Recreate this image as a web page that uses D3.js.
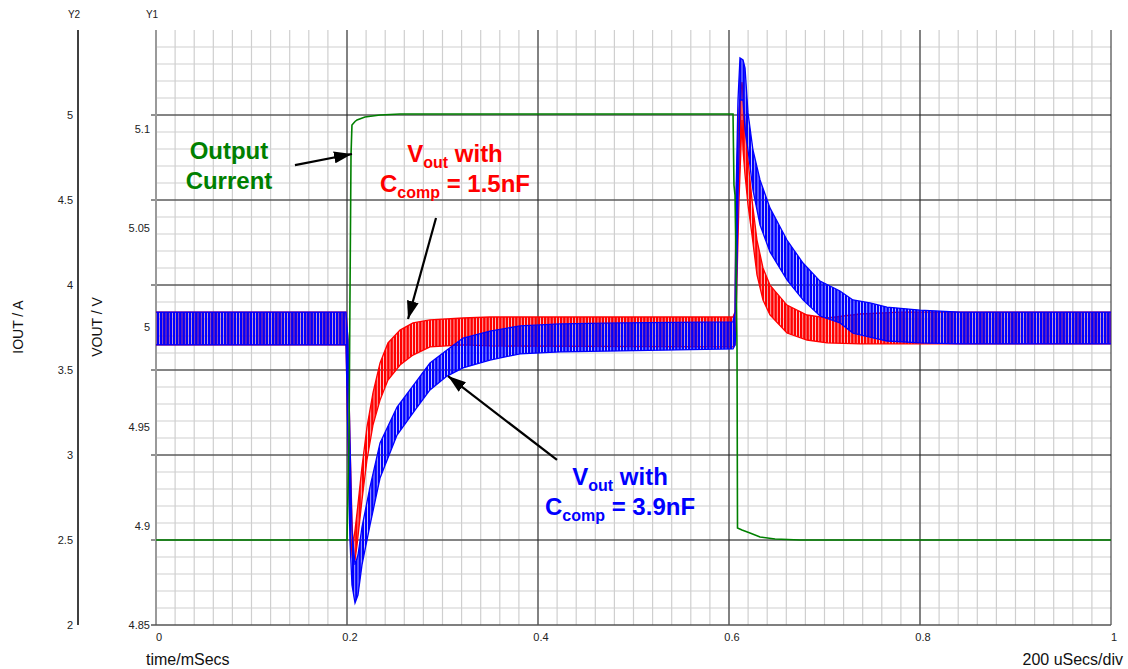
<!DOCTYPE html>
<html>
<head>
<meta charset="utf-8">
<script src="https://cdn.jsdelivr.net/npm/d3@7"></script>
<style>
  body { margin: 0; background: #fff; }
  svg { display: block; font-family: "Liberation Sans", Arial, sans-serif; }
</style>
</head>
<body>
<svg id="chart" width="1128" height="669"></svg>
<script>
// time axis in mSecs
const xTicks = [0, 0.2, 0.4, 0.6, 0.8, 1];
const y1Ticks = [4.85, 4.9, 4.95, 5, 5.05, 5.1];
const y2Ticks = [2, 2.5, 3, 3.5, 4, 4.5, 5];

// output current (A, on Y2)
const iT = [0, 0.2, 0.2021, 0.2031, 0.2042, 0.2052, 0.2084, 0.2105, 0.2188, 0.2346, 0.2555, 0.6042, 0.6052, 0.6063, 0.6073, 0.6084, 0.6089, 0.6136, 0.6220, 0.6325, 0.6482, 0.6743, 1];
const iOut = [2.5, 2.5, 3.088, 3.912, 4.765, 4.941, 4.962, 4.971, 4.988, 5.0, 5.006, 5.006, 4.588, 4.529, 4.147, 3.618, 2.571, 2.559, 2.541, 2.518, 2.506, 2.5, 2.5];

// Vout with Ccomp = 1.5nF : ripple envelope (V, on Y1)
const redT = [0, 0.199, 0.201, 0.2031, 0.2052, 0.2063, 0.2084, 0.2105, 0.2157, 0.2209, 0.2272, 0.2346, 0.2429, 0.2555, 0.2691, 0.2869, 0.3215, 0.3497, 0.6042, 0.6063, 0.6073, 0.6105, 0.6136, 0.6147, 0.6168, 0.6199, 0.6241, 0.6293, 0.6356, 0.6429, 0.6607, 0.6817, 0.7026, 0.7372, 0.7791, 1];
const redHi = [5.0078, 5.0078, 4.9937, 4.9433, 4.9029, 4.8903, 4.8979, 4.9065, 4.9297, 4.9498, 4.9670, 4.9821, 4.9922, 4.9987, 5.0023, 5.0038, 5.0048, 5.0053, 5.0053, 5.0078, 5.0643, 5.1097, 5.1238, 5.1182, 5.1021, 5.0845, 5.0643, 5.0441, 5.0300, 5.0214, 5.0113, 5.0063, 5.0048, 5.0068, 5.0078, 5.0078];
const redLo = [4.9912, 4.9912, 4.9433, 4.9029, 4.8853, 4.8818, 4.8828, 4.8903, 4.9130, 4.9332, 4.9508, 4.9634, 4.9735, 4.9811, 4.9861, 4.9902, 4.9912, 4.9907, 4.9902, 4.9912, 5.0038, 5.0643, 5.1046, 5.0895, 5.0769, 5.0618, 5.0466, 5.0265, 5.0139, 5.0063, 4.9972, 4.9937, 4.9922, 4.9917, 4.9917, 4.9917];

// Vout with Ccomp = 3.9nF : ripple envelope (V, on Y1)
const blueT = [0, 0.199, 0.201, 0.2031, 0.2052, 0.2084, 0.2115, 0.2157, 0.2241, 0.2346, 0.2524, 0.2712, 0.2869, 0.3047, 0.3215, 0.3497, 0.3812, 0.4230, 0.4859, 0.6042, 0.6063, 0.6073, 0.6094, 0.6115, 0.6147, 0.6168, 0.6199, 0.6251, 0.6325, 0.6429, 0.6607, 0.6775, 0.6953, 0.7162, 0.7298, 0.7476, 0.7654, 0.8, 0.8419, 1];
const blueHi = [5.0078, 5.0078, 4.9937, 4.9433, 4.8979, 4.8803, 4.8853, 4.8994, 4.9196, 4.9418, 4.9599, 4.9720, 4.9821, 4.9887, 4.9947, 4.9982, 5.0008, 5.0018, 5.0023, 5.0028, 5.0078, 5.0643, 5.1147, 5.1359, 5.1349, 5.1308, 5.1082, 5.0895, 5.0744, 5.0603, 5.0441, 5.0325, 5.0234, 5.0184, 5.0139, 5.0124, 5.0103, 5.0088, 5.0078, 5.0078];
const blueLo = [4.9912, 4.9912, 4.9433, 4.8929, 4.8702, 4.8611, 4.8651, 4.8803, 4.9004, 4.9241, 4.9458, 4.9584, 4.9685, 4.9755, 4.9796, 4.9836, 4.9867, 4.9877, 4.9882, 4.9892, 4.9912, 4.9987, 5.0643, 5.1147, 5.1147, 5.0996, 5.0895, 5.0693, 5.0517, 5.0381, 5.0240, 5.0139, 5.0058, 5.0023, 4.9972, 4.9952, 4.9932, 4.9922, 4.9917, 4.9917];

const svg = d3.select("#chart");

let x = d3.scaleLinear().domain([0, 1]).range([156, 1111]);
let y1 = d3.scaleLinear().domain([4.85, 5.15]).range([625, 30]);
let y2 = d3.scaleLinear().domain([2, 5.5]).range([625, 30]);

// ripple fill patterns
let defs = svg.append("defs");
[["ripple-red", "#ff0000"], ["ripple-blue", "#0000ff"]].forEach(function(p){
    defs.append("pattern")
        .attr("id", p[0])
        .attr("patternUnits", "userSpaceOnUse")
        .attr("width", 3.2)
        .attr("height", 20)
      .append("rect")
        .attr("width", 2.5)
        .attr("height", 20)
        .attr("fill", p[1]);
});
defs.append("marker")
    .attr("id", "head")
    .attr("markerUnits", "userSpaceOnUse")
    .attr("viewBox", "0 0 18 12")
    .attr("refX", 18).attr("refY", 6)
    .attr("markerWidth", 18).attr("markerHeight", 12)
    .attr("orient", "auto")
  .append("path")
    .attr("d", "M0,0 L18,6 L0,12 Z")
    .attr("fill", "#000");

// grid
let grid = svg.append("g");
grid.selectAll(".vminor")
    .data(d3.range(1, 50).map(function(i){ return i * 0.02; }))
    .enter().append("line")
    .attr("x1", function(d){ return x(d); }).attr("x2", function(d){ return x(d); })
    .attr("y1", y2(5.5)).attr("y2", y2(2))
    .style("stroke", "#cfcfcf").style("stroke-width", 1.2);
grid.selectAll(".hminor")
    .data(d3.range(1, 35).map(function(i){ return 2 + i * 0.1; }))
    .enter().append("line")
    .attr("x1", x(0)).attr("x2", x(1))
    .attr("y1", function(d){ return y2(d); }).attr("y2", function(d){ return y2(d); })
    .style("stroke", "#cfcfcf").style("stroke-width", 1.2);
grid.selectAll(".hmajor")
    .data(y2Ticks.slice(1))
    .enter().append("line")
    .attr("x1", x(0) - 5).attr("x2", x(1))
    .attr("y1", function(d){ return y2(d); }).attr("y2", function(d){ return y2(d); })
    .style("stroke", "#222").style("stroke-width", 1);
grid.selectAll(".vmajor")
    .data(xTicks.slice(1))
    .enter().append("line")
    .attr("x1", function(d){ return x(d); }).attr("x2", function(d){ return x(d); })
    .attr("y1", y2(5.5)).attr("y2", y2(2))
    .style("stroke", "#222").style("stroke-width", 1);
// Y1 axis and bottom
grid.append("line")
    .attr("x1", x(0)).attr("x2", x(0)).attr("y1", y2(5.5)).attr("y2", y2(2))
    .style("stroke", "#9a9a9a").style("stroke-width", 2);
grid.append("line")
    .attr("x1", x(0) - 5).attr("x2", x(1)).attr("y1", y2(2)).attr("y2", y2(2))
    .style("stroke", "#555").style("stroke-width", 1.5);
// Y2 axis line
svg.append("line")
    .attr("x1", 78).attr("x2", 78).attr("y1", y2(5.5)).attr("y2", y2(2))
    .style("stroke", "#000").style("stroke-width", 1.5);

// tick labels
let lab = svg.append("g").style("font-size", "11px").style("fill", "#222");
lab.selectAll(".xl").data(xTicks).enter().append("text")
    .attr("x", function(d){ return x(d) + 3; })
    .attr("y", 641)
    .attr("text-anchor", "middle")
    .text(function(d){ return d; });
lab.selectAll(".y1l").data(y1Ticks).enter().append("text")
    .attr("x", 150)
    .attr("y", function(d){ return y1(d); })
    .attr("dy", "0.35em")
    .attr("text-anchor", "end")
    .text(function(d){ return d; });
lab.selectAll(".y2l").data(y2Ticks).enter().append("text")
    .attr("x", 73)
    .attr("y", function(d){ return y2(d); })
    .attr("dy", "0.35em")
    .attr("text-anchor", "end")
    .text(function(d){ return d; });
lab.append("text").attr("x", 74).attr("y", 18).attr("text-anchor", "middle").style("font-size", "10px").text("Y2");
lab.append("text").attr("x", 152).attr("y", 18).attr("text-anchor", "middle").style("font-size", "10px").text("Y1");

// axis titles
svg.append("text")
    .attr("transform", "translate(23,327) rotate(-90)")
    .attr("text-anchor", "middle")
    .style("font-size", "14px").style("fill", "#111")
    .text("IOUT / A");
svg.append("text")
    .attr("transform", "translate(102,327) rotate(-90)")
    .attr("text-anchor", "middle")
    .style("font-size", "14px").style("fill", "#111")
    .text("VOUT / V");
svg.append("text")
    .attr("x", 146).attr("y", 665)
    .style("font-size", "16px").style("fill", "#111")
    .text("time/mSecs");
svg.append("text")
    .attr("x", 1123).attr("y", 665)
    .attr("text-anchor", "end")
    .style("font-size", "16px").style("fill", "#111")
    .text("200 uSecs/div");

// traces
let plot = svg.append("g");
function drawRipple(tt, hi, lo, color, pat){
    let rows = tt.map(function(t, i){ return {t: t, hi: hi[i], lo: lo[i]}; });
    let area = d3.area()
        .x(function(d){ return x(d.t); })
        .y0(function(d){ return y1(d.lo); })
        .y1(function(d){ return y1(d.hi); });
    plot.append("path")
        .datum(rows)
        .attr("d", area)
        .style("fill", "url(#" + pat + ")");
    ["hi", "lo"].forEach(function(k){
        plot.append("path")
            .datum(rows)
            .attr("d", d3.line()
                .x(function(d){ return x(d.t); })
                .y(function(d){ return y1(d[k]); }))
            .style("fill", "none")
            .style("stroke", color)
            .style("stroke-width", 1.3);
    });
}
drawRipple(redT, redHi, redLo, "#ff0000", "ripple-red");
drawRipple(blueT, blueHi, blueLo, "#0000ff", "ripple-blue");

plot.append("path")
    .datum(iT.map(function(t, i){ return {t: t, a: iOut[i]}; }))
    .attr("d", d3.line()
        .x(function(d){ return x(d.t); })
        .y(function(d){ return y2(d.a); }))
    .style("fill", "none")
    .style("stroke", "#008000")
    .style("stroke-width", 1.6);

// annotations (positions in time / VOUT units)
const arrows = [
    {t0: 0.1455, v0: 5.0819, t1: 0.2052, v1: 5.0875},
    {t0: 0.2932, v0: 5.0552, t1: 0.2639, v1: 5.0043},
    {t0: 0.4199, v0: 4.9332, t1: 0.3058, v1: 4.9755}
];
svg.selectAll(".arrow").data(arrows).enter().append("line")
    .attr("x1", function(d){ return x(d.t0); })
    .attr("y1", function(d){ return y1(d.v0); })
    .attr("x2", function(d){ return x(d.t1); })
    .attr("y2", function(d){ return y1(d.v1); })
    .attr("marker-end", "url(#head)")
    .style("stroke", "#000")
    .style("stroke-width", 2.2);

let notes = svg.append("g").style("font-weight", "bold");
notes.append("text")
    .attr("x", x(0.0764)).attr("y", y1(5.0850))
    .attr("text-anchor", "middle")
    .style("font-size", "24px").style("fill", "#008000")
    .text("Output");
notes.append("text")
    .attr("x", x(0.0764)).attr("y", y1(5.0698))
    .attr("text-anchor", "middle")
    .style("font-size", "24px").style("fill", "#008000")
    .text("Current");

function label(t, v1, v2, val, color){
    let a = notes.append("text")
        .attr("x", x(t)).attr("y", y1(v1))
        .attr("text-anchor", "middle")
        .style("font-size", "24px").style("fill", color);
    a.append("tspan").text("V");
    a.append("tspan").attr("dy", 6).style("font-size", "16px").text("out");
    a.append("tspan").attr("dy", -6).text(" with");
    let b = notes.append("text")
        .attr("x", x(t)).attr("y", y1(v2))
        .attr("text-anchor", "middle")
        .style("font-size", "24px").style("fill", color);
    b.append("tspan").text("C");
    b.append("tspan").attr("dy", 6).style("font-size", "16px").text("comp");
    b.append("tspan").attr("dy", -6).text(" = " + val);
}
label(0.3131, 5.0834, 5.0683, "1.5nF", "#ff0000");
label(0.4859, 4.9206, 4.9055, "3.9nF", "#0000ff");
</script>
</body>
</html>
